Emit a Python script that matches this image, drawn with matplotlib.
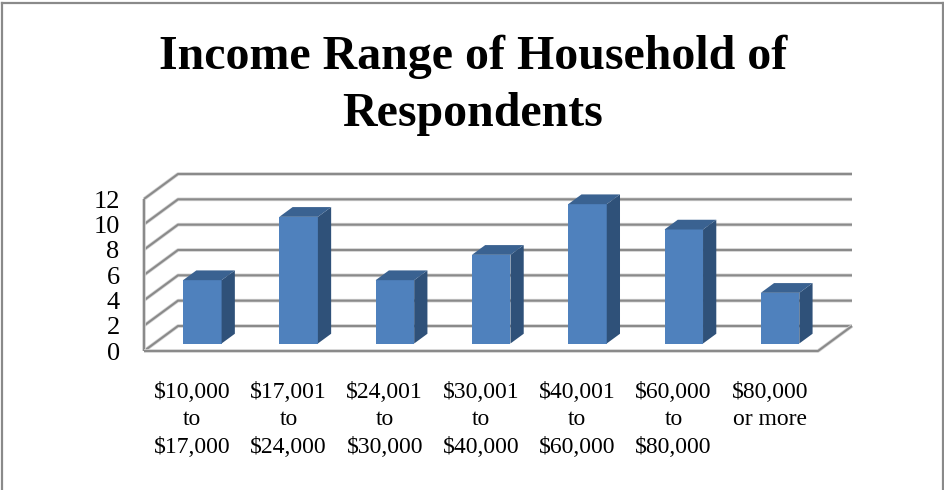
import matplotlib
matplotlib.use("Agg")
import matplotlib.pyplot as plt
from matplotlib.patches import Polygon, Rectangle
from matplotlib.lines import Line2D

categories = ["$10,000\nto\n$17,000", "$17,001\nto\n$24,000", "$24,001\nto\n$30,000",
              "$30,001\nto\n$40,000", "$40,001\nto\n$60,000", "$60,000\nto\n$80,000",
              "$80,000\nor more\n"]
values = [5, 10, 5, 7, 11, 9, 4]
yticks = [0, 2, 4, 6, 8, 10, 12]
title = "Income Range of Household of\nRespondents"

W, H = 945, 490
plt.rcParams["font.family"] = ["Liberation Serif"]
fig = plt.figure(figsize=(W / 100, H / 100), dpi=100)
L, R, T, B = 144, 818, 199, 351
ax = fig.add_axes([L / W, 1 - B / H, (R - L) / W, (B - T) / H])
ax.set_xlim(-0.5, 6.5)
ax.set_ylim(0, 12)
for s in ax.spines.values():
    s.set_visible(False)
ax.patch.set_visible(False)

ux = (R - L) / 7
uy = (B - T) / 12
DX, DY = 34 / ux, 25 / uy   # full depth of the floor, in data units


def pr(x, y, d):
    return (x + d * DX, y + d * DY)


GRID = "#8a8a8a"
SHADOW = "#d4d4d4"


def wall_line(pts, z=1):
    xs, ys = zip(*pts)
    for c, lw in ((SHADOW, 2.6), (GRID, 1.5)):
        ax.add_line(Line2D(xs, ys, color=c, lw=lw, zorder=z, clip_on=False,
                           solid_capstyle="butt"))


for t in yticks:
    wall_line([pr(-0.5, t, 0), pr(-0.5, t, 1), pr(6.5, t, 1)])
wall_line([pr(-0.5, 0, 0), pr(-0.5, 12, 0)])
wall_line([pr(-0.5, 0, 0), pr(6.5, 0, 0), pr(6.5, 0, 1)])

FRONT, TOP, SIDE = "#4F81BD", "#3A6291", "#2F5179"
d0, d1 = 0.30, 0.69
bw = 0.40
for i, v in enumerate(values):
    x0, x1 = i - bw / 2, i + bw / 2
    sx, sy = pr(x0, 0, d0)
    ax.add_patch(Rectangle((sx, sy), bw, v, fc=FRONT, ec="none", zorder=3, clip_on=False))
    ax.add_patch(Polygon([pr(x1, 0, d0), pr(x1, 0, d1), pr(x1, v, d1), pr(x1, v, d0)],
                         fc=SIDE, ec="none", zorder=3, clip_on=False))
    ax.add_patch(Polygon([pr(x0, v, d0), pr(x0, v, d1), pr(x1, v, d1), pr(x1, v, d0)],
                         fc=TOP, ec="none", zorder=3, clip_on=False))

ax.set_yticks(yticks)
ax.set_yticklabels([str(t) for t in yticks], fontsize=19, color="black")
ax.tick_params(axis="y", length=0, pad=17.5)
ax.set_xticks(range(len(categories)))
ax.set_xticklabels(categories, fontsize=17, color="black", linespacing=1.42,
                   va="top")
ax.tick_params(axis="x", length=0, pad=22)

fig.text(473 / W, 1 - 85.5 / H, title, ha="center", va="center", fontsize=34.5,
         fontweight="bold", color="black", linespacing=1.37)

for xs, ys in (([2.5, 2.5], [3, 490]), ([2, 943], [3, 3]), ([943, 943], [3, 490])):
    fig.add_artist(Line2D([x / W for x in xs], [1 - y / H for y in ys], color="#8a8a8a",
                          lw=1.6, transform=fig.transFigure))

fig.savefig("out.png", dpi=100)
